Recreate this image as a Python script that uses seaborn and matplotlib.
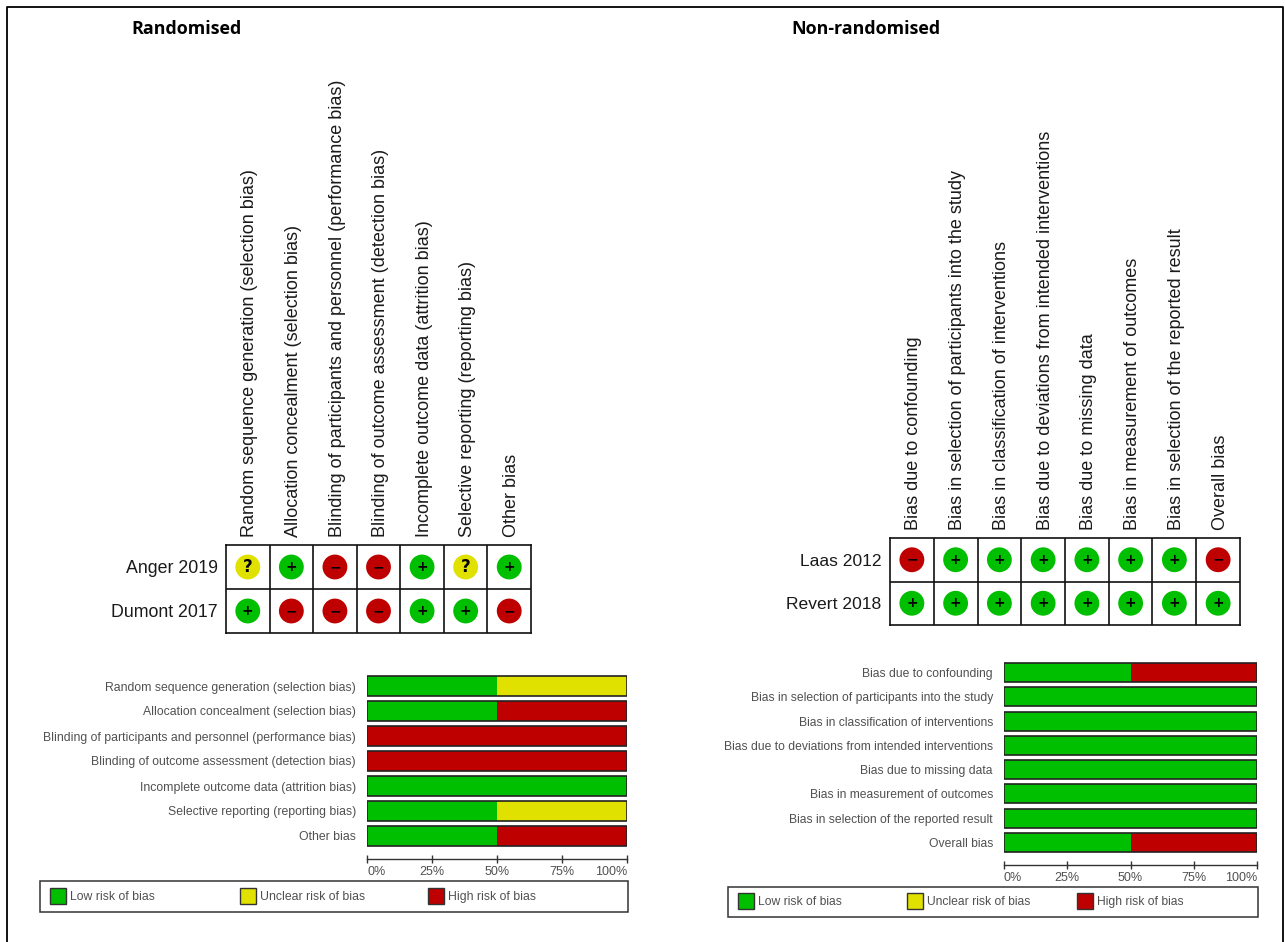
import matplotlib
matplotlib.use("Agg")
import matplotlib.pyplot as plt
from matplotlib.patches import Rectangle
from matplotlib.lines import Line2D
import numpy as np
import pandas as pd
import seaborn as sns

sns.set_theme(style="white")
plt.rcParams['font.family'] = ['Liberation Sans', 'DejaVu Sans']

W, H = 1285, 942

# ---- data ----
title_left = "Randomised"
domains_left = ["Random sequence generation (selection bias)",
                "Allocation concealment (selection bias)",
                "Blinding of participants and personnel (performance bias)",
                "Blinding of outcome assessment (detection bias)",
                "Incomplete outcome data (attrition bias)",
                "Selective reporting (reporting bias)",
                "Other bias"]
studies_left = ["Anger 2019", "Dumont 2017"]
anger = ["?", "+", "-", "-", "+", "?", "+"]
dumont = ["+", "-", "-", "-", "+", "+", "-"]
low_left = [50, 50, 0, 0, 100, 50, 50]
unclear_left = [50, 0, 0, 0, 0, 50, 0]
high_left = [0, 50, 100, 100, 0, 0, 50]

title_right = "Non-randomised"
domains_right = ["Bias due to confounding",
                 "Bias in selection of participants into the study",
                 "Bias in classification of interventions",
                 "Bias due to deviations from intended interventions",
                 "Bias due to missing data",
                 "Bias in measurement of outcomes",
                 "Bias in selection of the reported result",
                 "Overall bias"]
studies_right = ["Laas 2012", "Revert 2018"]
laas = ["-", "+", "+", "+", "+", "+", "+", "-"]
revert = ["+", "+", "+", "+", "+", "+", "+", "+"]
low_right = [50, 100, 100, 100, 100, 100, 100, 50]
unclear_right = [0, 0, 0, 0, 0, 0, 0, 0]
high_right = [50, 0, 0, 0, 0, 0, 0, 50]

pct_ticks = [0, 25, 50, 75, 100]
legend_labels = ["Low risk of bias", "Unclear risk of bias", "High risk of bias"]

GREEN, YELLOW, RED = "#00BF00", "#E1E100", "#BF0000"
PALETTE = {"+": GREEN, "?": YELLOW, "-": RED}
GLYPH = {"+": "+", "?": "?", "-": "\u2212"}
GLYPH_SIZE = {"+": 10, "?": 12, "-": 10}
LABEL_GREY = "#505050"

fig = plt.figure(figsize=(W / 100, H / 100), dpi=100, facecolor="white")


def px_axes(x0, y0, x1, y1):
    return fig.add_axes([x0 / W, 1 - y1 / H, (x1 - x0) / W, (y1 - y0) / H])


def summary_grid(box, domains, studies, rows, label_gap, study_size):
    ax = px_axes(*box)
    n, m = len(domains), len(studies)
    df = pd.DataFrame({
        "domain": [i for _ in studies for i in range(n)],
        "study": [j for j in range(m) for _ in domains],
        "judgement": [v for row in rows for v in row],
    })
    sns.scatterplot(data=df, x="domain", y="study", hue="judgement", palette=PALETTE,
                    s=320, linewidth=0, legend=False, ax=ax, zorder=3, clip_on=False)
    for _, r in df.iterrows():
        ax.text(r["domain"], r["study"], GLYPH[r["judgement"]], ha="center", va="center",
                fontsize=GLYPH_SIZE[r["judgement"]], fontweight="bold", color="black", zorder=4,
                family=["DejaVu Sans"])
    ax.set_xlim(-0.5, n - 0.5)
    ax.set_ylim(m - 0.5, -0.5)
    ax.set_xticks(np.arange(0.5, n - 0.5), minor=False)
    ax.set_yticks([0.5])
    ax.set_xticklabels([])
    ax.set_yticklabels([])
    ax.set_xlabel("")
    ax.set_ylabel("")
    ax.grid(True, color="#111111", lw=1.2, zorder=1)
    ax.tick_params(length=0)
    for s in ax.spines.values():
        s.set_color("#111111")
        s.set_linewidth(1.2)
    for i, d in enumerate(domains):
        ax.annotate(d, (i, 1), xycoords=("data", "axes fraction"), xytext=(1.5, 6),
                    textcoords="offset points", rotation=90, ha="center", va="bottom",
                    fontsize=13, color="#1a1a1a")
    for j, s in enumerate(studies):
        ax.annotate(s, (0, j), xycoords=("axes fraction", "data"), xytext=(-label_gap, -1),
                    textcoords="offset points", ha="right", va="center",
                    fontsize=study_size, color="#1a1a1a")
    return ax


def stacked_bars(box, domains, low, unclear, high, bar_height, label_size):
    ax = px_axes(*box)
    low, unclear, high = map(np.array, (low, unclear, high))
    df = pd.DataFrame({"domain": domains})
    for vals, left, col in ((low, 0 * low, GREEN), (unclear, low, YELLOW), (high, low + unclear, RED)):
        sns.barplot(data=df.assign(v=vals), y="domain", x="v", left=left, color=col, saturation=1,
                    width=bar_height, linewidth=0, ax=ax, zorder=2, orient="h")
    for i in range(len(domains)):
        ax.add_patch(Rectangle((0, i - bar_height / 2), 100, bar_height, fill=False,
                               ec="#222222", lw=1.2, zorder=3))
    for s in ("top", "left", "right"):
        ax.spines[s].set_visible(False)
    ax.spines["bottom"].set_position(("outward", 7.5))
    ax.spines["bottom"].set_color("#333333")
    ax.spines["bottom"].set_linewidth(1)
    ax.set_xlim(0, 100)
    ax.set_xlabel("")
    ax.set_ylabel("")
    ax.tick_params(axis="y", length=0, pad=8, labelsize=label_size, labelcolor=LABEL_GREY)
    ax.set_xticks(pct_ticks)
    ax.set_xticklabels([f"{t}%" for t in pct_ticks])
    ax.tick_params(axis="x", bottom=True, length=5.5, width=1, color="#333333", direction="inout",
                   pad=2.5, labelsize=9, labelcolor=LABEL_GREY)
    labs = ax.get_xticklabels()
    labs[0].set_ha("left")
    labs[-1].set_ha("right")
    ax.patch.set_alpha(0)
    return ax


def legend_box(box, swatch_x, swatch_top, text_size):
    x0, y0, x1, y1 = box
    fig.add_artist(Rectangle((x0 / W, 1 - y1 / H), (x1 - x0) / W, (y1 - y0) / H,
                             transform=fig.transFigure, fc="white", ec="#333333", lw=1.1))
    for sx, col, lab in zip(swatch_x, (GREEN, YELLOW, RED), legend_labels):
        fig.add_artist(Rectangle((sx / W, 1 - (swatch_top + 16) / H), 16 / W, 16 / H,
                                 transform=fig.transFigure, fc=col, ec="#333333", lw=1))
        fig.text((sx + 20) / W, 1 - (swatch_top + 9) / H, lab, ha="left", va="center",
                 fontsize=text_size, color=LABEL_GREY)


# frame: open at the bottom
fig.add_artist(Line2D([7 / W, 7 / W, 1283 / W, 1283 / W], [0, 1 - 6.5 / H, 1 - 6.5 / H, 0],
                      transform=fig.transFigure, color="black", lw=1.3))

# left panel
fig.text(186 / W, 1 - 29 / H, title_left, ha="center", va="center", fontsize=12.9,
         fontweight="bold", color="black", family=["Open Sans"])
summary_grid((226, 545, 531, 633), domains_left, studies_left, [anger, dumont], 6, 12.8)
stacked_bars((367, 673.5, 627, 848.5), domains_left, low_left, unclear_left, high_left, 0.78, 8.85)
legend_box((40, 881, 628, 912), (50, 240, 428), 888, 8.8)

# right panel
fig.text(866 / W, 1 - 29 / H, title_right, ha="center", va="center", fontsize=12.9,
         fontweight="bold", color="black", family=["Open Sans"])
summary_grid((890, 538, 1240, 625), domains_right, studies_right, [laas, revert], 6, 12.6)
stacked_bars((1004, 660.5, 1257, 854.5), domains_right, low_right, unclear_right, high_right, 0.78, 8.7)
legend_box((728, 887, 1258, 917), (738, 907, 1077), 893, 8.7)

fig.savefig("out.png", dpi=100, facecolor="white")
